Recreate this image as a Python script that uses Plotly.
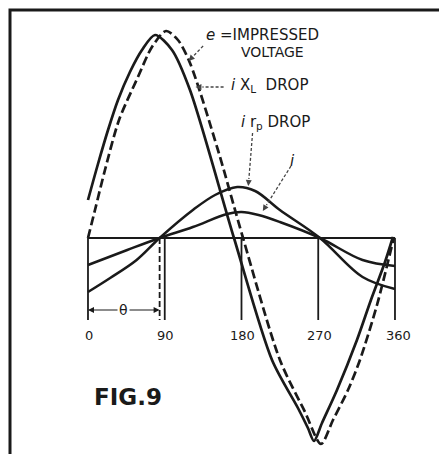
import math
import plotly.graph_objects as go

# phase angle (degrees) and curve values
e_deg = [0, 11.7, 23.5, 35.2, 49.2, 63.3, 78.6, 98.5, 119.6, 171.2, 215.8, 246.2, 257.9, 265, 274.4, 292, 315.4, 331.8, 348.3, 357.6]
e_val = [38, 74, 108, 138, 166, 188, 203, 188, 148, 0, -122, -170, -190, -203, -185, -152, -102, -62, -24, 1]

ixl_deg = [0, 8.2, 19.9, 36.4, 58.6, 75, 91.5, 105.5, 119.6, 152.4, 181.8, 225.1, 254.5, 273.2, 287.3, 304.9, 318.9, 338.9, 358.8]
ixl_val = [0, 28, 68, 118, 161, 191, 207, 198, 175, 88, 0, -122, -174, -206, -182, -152, -122, -67, 1]

irp_deg = [0, 26, 57, 84, 123, 149, 175, 196, 225, 272, 322, 360]
irp_val = [-54, -40, -22, 0, 28, 43, 51, 47, 28, 0, -39, -51]

i_deg = [0, 46, 84, 123, 163, 180, 200, 225, 272, 322, 360]
i_val = [-27, -12, 0, 11, 24, 26, 23, 16, 0, -22, -28]

tick_vals = [0, 90, 180, 270, 360]
tick_text = ['0', '90', '180', '270', '360']
theta_deg = 84

INK = '#1a1a1a'
LEAD = '#444444'
FONT = 'DejaVu Sans, Verdana, sans-serif'

# page body has an 8px margin, so the figure is sized to fit inside the window
W, H = 439, 446
X_RANGE = [-93.8, 421.0]
Y_RANGE = [-216, 230]
DEG_PER_PX = (X_RANGE[1] - X_RANGE[0]) / W

fig = go.Figure()
fig.add_trace(go.Scatter(x=e_deg, y=e_val, mode='lines',
                         line=dict(color=INK, width=2.7, shape='spline', smoothing=0.8)))
fig.add_trace(go.Scatter(x=ixl_deg, y=ixl_val, mode='lines',
                         line=dict(color=INK, width=2.7, dash='9px,4px', shape='spline', smoothing=0.8)))
fig.add_trace(go.Scatter(x=irp_deg, y=irp_val, mode='lines',
                         line=dict(color=INK, width=2.5, shape='spline', smoothing=1.0)))
fig.add_trace(go.Scatter(x=i_deg, y=i_val, mode='lines',
                         line=dict(color=INK, width=2.5, shape='spline', smoothing=1.0)))

# baseline and degree marks
fig.add_shape(type='line', x0=0, x1=360, y0=0, y1=0, line=dict(color=INK, width=1.8))
for t in tick_vals:
    fig.add_shape(type='line', x0=t, x1=t, y0=0, y1=-82, line=dict(color=INK, width=1.8))
fig.add_shape(type='line', x0=theta_deg, x1=theta_deg, y0=0, y1=-82,
              line=dict(color=INK, width=1.8, dash='6px,3px'))

for t, lbl in zip(tick_vals, tick_text):
    fig.add_annotation(x=t, y=-97, text=lbl, showarrow=False, xshift=1 if t < 360 else 4,
                       font=dict(family=FONT, size=13, color=INK))

# theta dimension arrow
for x_to in [0, theta_deg]:
    fig.add_annotation(x=x_to, y=-72, ax=theta_deg / 2, ay=-72, axref='x', ayref='y',
                       text='', showarrow=True, arrowhead=2, arrowsize=1, arrowwidth=1.2,
                       arrowcolor=INK)
fig.add_annotation(x=theta_deg / 2, y=-72, text='θ', showarrow=False, bgcolor='white',
                   font=dict(family=FONT, size=14, color=INK))

# labels
labels = [
    ("<i>e</i> =IMPRESSED", 205, 203, 15),
    ("VOLTAGE", 216, 186, 14),
    ("<i>i</i> X<sub>L</sub>  DROP", 213, 153, 15),
    ("<i>i</i> r<sub>p</sub> DROP", 220, 116, 15),
    ("<i>i</i>", 240, 77, 15),
]
for txt, xd, yd, sz in labels:
    fig.add_annotation(x=xd, y=yd, text=txt, showarrow=False,
                       font=dict(family=FONT, size=sz, color=INK))

# dashed leader lines ending in small arrowheads
leaders = [
    (135, 192, 118, 177),
    (159, 151, 126, 151),
    (193, 105, 188, 52),
    (238, 72, 205, 27),
]
for x0, y0, x1, y1 in leaders:
    dxp = (x1 - x0) / DEG_PER_PX
    dyp = y1 - y0
    n = math.hypot(dxp, dyp)
    xm = x1 - 7 * dxp / n * DEG_PER_PX
    ym = y1 - 7 * dyp / n
    fig.add_shape(type='line', x0=x0, y0=y0, x1=xm, y1=ym,
                  line=dict(color=LEAD, width=1.3, dash='3px,2px'))
    fig.add_annotation(x=x1, y=y1, ax=xm, ay=ym, axref='x', ayref='y', text='',
                       showarrow=True, arrowhead=2, arrowsize=1, arrowwidth=1.2,
                       arrowcolor=LEAD)

fig.add_annotation(x=47, y=-159, text='<b>FIG.9</b>', showarrow=False,
                   font=dict(family=FONT, size=23, color=INK))

# outer frame
fig.add_shape(type='rect', xref='paper', yref='paper',
              x0=2 / W, x1=436 / W, y0=-6 / H, y1=1 - 2 / H,
              line=dict(color=INK, width=3))

fig.update_layout(
    width=W, height=H,
    margin=dict(l=0, r=0, t=0, b=0),
    paper_bgcolor='white', plot_bgcolor='white',
    showlegend=False,
    xaxis=dict(range=X_RANGE, visible=False, fixedrange=True),
    yaxis=dict(range=Y_RANGE, visible=False, fixedrange=True),
)
fig.write_html("out.html")
